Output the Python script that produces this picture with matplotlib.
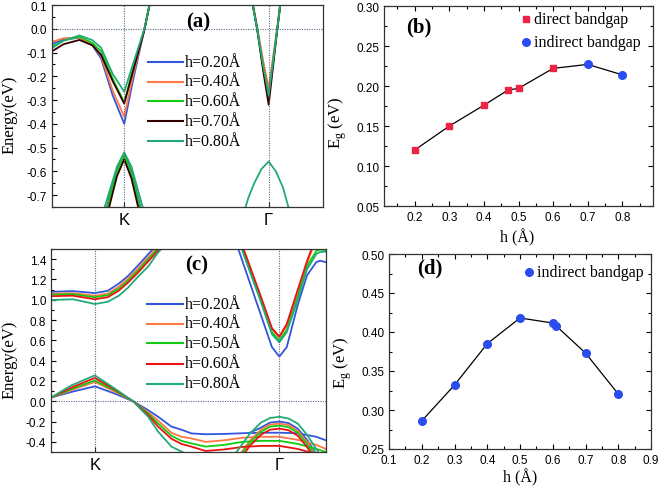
import numpy as np
import matplotlib
matplotlib.use("Agg")
import matplotlib.pyplot as plt
from matplotlib.ticker import MultipleLocator

# ---------------- data ----------------
# panel (a): k-path coordinate, K = 0, Gamma = 1
a_labels = ["h=0.20Å", "h=0.40Å", "h=0.60Å", "h=0.70Å", "h=0.80Å"]
a_colors = ["#3355dd", "#ff7744", "#11cc11", "#330000", "#22aa77"]
a_k_cK = [-0.5, -0.42, -0.31, -0.22, -0.16, -0.08, 0.0, 0.06, 0.14, 0.175, 0.25]
a_cK = [
    [-0.065, -0.045, -0.038, -0.07, -0.125, -0.28, -0.40, -0.22, 0.00, 0.10, 0.30],
    [-0.055, -0.04, -0.037, -0.065, -0.115, -0.26, -0.37, -0.20, 0.00, 0.10, 0.30],
    [-0.075, -0.05, -0.033, -0.06, -0.095, -0.21, -0.31, -0.17, 0.00, 0.10, 0.30],
    [-0.095, -0.065, -0.047, -0.07, -0.11, -0.22, -0.315, -0.18, -0.005, 0.10, 0.30],
    [-0.082, -0.05, -0.028, -0.048, -0.08, -0.19, -0.265, -0.15, 0.00, 0.10, 0.30],
]
a_k_vK = [-0.16, -0.1, -0.05, 0.0, 0.05, 0.1, 0.16]
a_vK = [
    [-0.85, -0.70, -0.59, -0.525, -0.60, -0.72, -0.87],
    [-0.87, -0.72, -0.61, -0.54, -0.62, -0.74, -0.89],
    [-0.86, -0.71, -0.60, -0.53, -0.61, -0.73, -0.88],
    [-0.90, -0.74, -0.62, -0.55, -0.63, -0.76, -0.92],
    [-0.80, -0.68, -0.58, -0.52, -0.58, -0.69, -0.82],
]
a_k_cG = [0.85, 0.89, 0.92, 0.96, 1.0, 1.03, 1.06, 1.08, 1.12]
a_cG = [
    [0.25, 0.10, 0.0, -0.14, -0.27, -0.135, 0.0, 0.10, 0.30],
    [0.25, 0.11, 0.01, -0.13, -0.25, -0.12, 0.01, 0.11, 0.30],
    [0.25, 0.10, 0.0, -0.155, -0.29, -0.145, 0.0, 0.10, 0.30],
    [0.25, 0.10, 0.0, -0.17, -0.32, -0.16, 0.0, 0.10, 0.30],
    [0.25, 0.10, 0.0, -0.15, -0.28, -0.14, 0.0, 0.10, 0.30],
]
a_k_vG = [0.82, 0.86, 0.9, 0.95, 1.0, 1.05, 1.1, 1.15]
a_vG_h080 = [-0.79, -0.71, -0.65, -0.59, -0.559, -0.60, -0.67, -0.78]

# panel (b)
b_h_direct = [0.2, 0.3, 0.4, 0.47, 0.5, 0.6]
b_eg_direct = [0.120, 0.150, 0.176, 0.195, 0.197, 0.222]
b_h_indirect = [0.7, 0.8]
b_eg_indirect = [0.227, 0.214]

# panel (c)
c_labels = ["h=0.20Å", "h=0.40Å", "h=0.50Å", "h=0.60Å", "h=0.80Å"]
c_colors = ["#3355dd", "#ff7744", "#11cc11", "#ee1111", "#22aa77"]
c_k_cK = [-0.24, -0.12, 0.0, 0.07, 0.13, 0.18, 0.23, 0.29, 0.34, 0.4]
c_cK = [
    [1.078, 1.085, 1.066, 1.088, 1.16, 1.235, 1.33, 1.45, 1.55, 1.66],
    [1.06, 1.065, 1.04, 1.06, 1.13, 1.21, 1.30, 1.42, 1.52, 1.64],
    [1.05, 1.055, 1.025, 1.045, 1.11, 1.19, 1.28, 1.40, 1.50, 1.62],
    [1.035, 1.04, 1.005, 1.025, 1.09, 1.17, 1.26, 1.38, 1.48, 1.60],
    [0.997, 1.005, 0.958, 0.98, 1.04, 1.12, 1.22, 1.33, 1.46, 1.58],
]
c_k_cG = [0.75, 0.8, 0.85, 0.9, 0.96, 1.0, 1.04, 1.1, 1.15, 1.2, 1.22, 1.253]
c_cG = [
    [1.65, 1.38, 1.115, 0.85, 0.533, 0.44, 0.533, 0.95, 1.24, 1.37, 1.385, 1.37],
    [1.77, 1.525, 1.27, 1.02, 0.71, 0.63, 0.74, 1.07, 1.36, 1.60, 1.70, 1.80],
    [1.74, 1.49, 1.24, 0.99, 0.68, 0.60, 0.70, 1.03, 1.33, 1.48, 1.495, 1.49],
    [1.78, 1.53, 1.28, 1.03, 0.72, 0.637, 0.76, 1.10, 1.38, 1.62, 1.70, 1.80],
    [1.73, 1.48, 1.23, 0.98, 0.66, 0.58, 0.68, 1.00, 1.30, 1.45, 1.47, 1.475],
]
c_k_v1 = [-0.24, -0.127, 0.0, 0.108, 0.207, 0.289, 0.343, 0.415, 0.469, 0.523,
          0.6, 0.7, 0.8, 0.9, 1.0, 1.1, 1.2, 1.253]
c_v1 = [
    [0.035, 0.092, 0.147, 0.075, 0.0, -0.088, -0.153, -0.25, -0.28, -0.317,
     -0.325, -0.322, -0.315, -0.31, -0.31, -0.315, -0.35, -0.385],
    [0.035, 0.11, 0.19, 0.095, 0.0, -0.11, -0.19, -0.31, -0.35, -0.366,
     -0.40, -0.385, -0.36, -0.35, -0.35, -0.38, -0.43, -0.47],
    [0.035, 0.12, 0.205, 0.105, 0.0, -0.12, -0.22, -0.34, -0.39, -0.415,
     -0.447, -0.43, -0.40, -0.39, -0.39, -0.42, -0.47, -0.50],
    [0.035, 0.135, 0.23, 0.115, 0.0, -0.135, -0.25, -0.37, -0.42, -0.447,
     -0.49, -0.475, -0.45, -0.44, -0.44, -0.47, -0.52, -0.55],
    [0.035, 0.157, 0.255, 0.125, 0.0, -0.153, -0.30, -0.447, -0.496, -0.54,
     -0.58, -0.57, -0.55, -0.54, -0.54, -0.57, -0.60, -0.62],
]
c_k_v2 = [0.72, 0.78, 0.84, 0.9, 0.95, 1.0, 1.05, 1.1, 1.15, 1.2, 1.253]
c_v2 = [
    [np.nan, np.nan, -0.31, -0.26, -0.21, -0.20, -0.215, -0.27, -0.38, -0.52, -0.67],
    [-0.69, -0.54, -0.39, -0.28, -0.23, -0.22, -0.235, -0.29, -0.40, -0.54, -0.69],
    [-0.71, -0.56, -0.41, -0.30, -0.25, -0.24, -0.255, -0.31, -0.42, -0.56, -0.71],
    [-0.74, -0.59, -0.44, -0.33, -0.28, -0.27, -0.285, -0.34, -0.45, -0.59, -0.74],
    [-0.62, -0.47, -0.32, -0.21, -0.165, -0.153, -0.17, -0.22, -0.33, -0.47, -0.62],
]

# panel (d)
d_h = [0.2, 0.3, 0.4, 0.5, 0.6, 0.61, 0.7, 0.8]
d_eg = [0.286, 0.332, 0.385, 0.418, 0.4115, 0.408, 0.373, 0.3205]

# ---------------- style ----------------
W, H = 661, 489
SANS = "Liberation Sans"
SERIF = "Liberation Serif"
plt.rcParams["font.family"] = [SANS, "DejaVu Sans"]
plt.rcParams["mathtext.fontset"] = "custom"
plt.rcParams["mathtext.rm"] = SERIF
TICK_FS = 8.5
LABEL_FS = 12
LEG_FS = 11.5
REF = dict(color="#5a6a8a", lw=0.8, ls=(0, (1, 1.2)))
LW = 1.3

fig = plt.figure(figsize=(W / 100, H / 100), dpi=100)


def make_ax(l, r, t, b):
    return fig.add_axes([l / W, 1 - b / H, (r - l) / W, (b - t) / H])


def style(ax, right=True, top=True):
    ax.tick_params(which="both", direction="in", labelsize=TICK_FS,
                   right=right, top=top, width=0.8)
    ax.tick_params(which="major", length=3.5)
    ax.tick_params(which="minor", length=2)
    for s in ax.spines.values():
        s.set_linewidth(0.9)
        s.set_color("#333333")


def set_labels(ax, ylabel, ypos, xlabel=None, xpos=None):
    ax.set_ylabel(ylabel, family=SERIF, fontsize=LABEL_FS)
    ax.yaxis.set_label_coords(*ypos)
    ax.yaxis.label.set_va("center")
    ax.yaxis.label.set_ha("center")
    if xlabel is not None:
        ax.set_xlabel(xlabel, family=SERIF, fontsize=LABEL_FS - 0.5)
        ax.xaxis.set_label_coords(*xpos)
        ax.xaxis.label.set_va("center")


def legend_lines(ax, labels, colors, x0, x1, xt, ys):
    for lab, col, y in zip(labels, colors, ys):
        ax.plot([x0, x1], [y, y], color=col, lw=LW + 0.2, transform=ax.transAxes,
                clip_on=False)
        ax.text(xt, y, lab, transform=ax.transAxes, fontsize=LEG_FS,
                family=SERIF, va="center", ha="left")


# ---------------- (a) ----------------
axA = make_ax(52, 323, 6, 208)
for i in range(len(a_labels)):
    c = a_colors[i]
    axA.plot(a_k_cK, a_cK[i], color=c, lw=LW)
    axA.plot(a_k_vK, a_vK[i], color=c, lw=LW)
    axA.plot(a_k_cG, a_cG[i], color=c, lw=LW)
axA.plot(a_k_vG, a_vG_h080, color=a_colors[4], lw=LW)
axA.axhline(0, **REF)
axA.axvline(0, **REF)
axA.axvline(1, **REF)
axA.set_xlim(-0.5, 1.376)
axA.set_ylim(-0.75, 0.1)
axA.set_yticks([0.1, 0.0, -0.1, -0.2, -0.3, -0.4, -0.5, -0.6, -0.7])
axA.set_yticklabels(["0.1", "0.0", "-0.1", "-0.2", "-0.3", "-0.4", "-0.5", "-0.6", "-0.7"])
axA.yaxis.set_minor_locator(MultipleLocator(0.05))
axA.set_xticks([0, 1])
style(axA, right=False, top=False)
axA.set_xticklabels(["K", "Γ"], fontsize=12)
set_labels(axA, "Energy(eV)", (-0.157, 0.46))
legend_lines(axA, a_labels, a_colors, 0.354, 0.483, 0.49,
             [(208 - y) / 202 for y in (63, 82.5, 102, 121.5, 141.5)])

# ---------------- (b) ----------------
axB = make_ax(384, 653, 7, 207)
axB.plot(b_h_direct + b_h_indirect, b_eg_direct + b_eg_indirect, color="black",
         lw=0.9, zorder=1)
axB.plot(b_h_direct, b_eg_direct, "s", color="#ee2244", ms=5, zorder=3)
axB.plot(b_h_indirect, b_eg_indirect, "o", color="#2a4df0", ms=5.5, zorder=3)
axB.set_xlim(0.111, 0.889)
axB.set_ylim(0.05, 0.30)
axB.set_xticks([0.2, 0.3, 0.4, 0.5, 0.6, 0.7, 0.8])
axB.set_xticklabels(["0.2", "0.3", "0.4", "0.5", "0.6", "0.7", "0.8"])
axB.xaxis.set_minor_locator(MultipleLocator(0.05))
axB.set_yticks([0.05, 0.10, 0.15, 0.20, 0.25, 0.30])
axB.set_yticklabels(["0.05", "0.10", "0.15", "0.20", "0.25", "0.30"])
axB.yaxis.set_minor_locator(MultipleLocator(0.025))
style(axB)
set_labels(axB, r"E$_{\mathregular{g}}$ (eV)", (-0.171, 0.42), "h (Å)", (0.494, -0.155))
axB.plot([(526 - 384) / 269], [(207 - 20) / 200], "s", color="#ee2244", ms=5,
         transform=axB.transAxes, clip_on=False)
axB.text((534 - 384) / 269, (207 - 20) / 200, "direct bandgap", transform=axB.transAxes,
         fontsize=LEG_FS, family=SERIF, va="center")
axB.plot([(526 - 384) / 269], [(207 - 43) / 200], "o", color="#2a4df0", ms=5.5,
         transform=axB.transAxes, clip_on=False)
axB.text((534 - 384) / 269, (207 - 43) / 200, "indirect bandgap", transform=axB.transAxes,
         fontsize=LEG_FS, family=SERIF, va="center")

# ---------------- (c) ----------------
axC = make_ax(51, 326, 250, 453)
for i in range(len(c_labels)):
    c = c_colors[i]
    axC.plot(c_k_cK, c_cK[i], color=c, lw=LW)
    axC.plot(c_k_cG, c_cG[i], color=c, lw=LW)
    axC.plot(c_k_v1, c_v1[i], color=c, lw=LW)
    axC.plot(c_k_v2, c_v2[i], color=c, lw=LW)
axC.axhline(0, **REF)
axC.axvline(0, **REF)
axC.axvline(1, **REF)
axC.set_xlim(-0.238, 1.253)
axC.set_ylim(-0.5, 1.5)
axC.set_yticks([-0.4, -0.2, 0.0, 0.2, 0.4, 0.6, 0.8, 1.0, 1.2, 1.4])
axC.set_yticklabels(["-0.4", "-0.2", "0.0", "0.2", "0.4", "0.6", "0.8", "1.0", "1.2", "1.4"])
axC.yaxis.set_minor_locator(MultipleLocator(0.1))
axC.set_xticks([0, 1])
style(axC, right=False, top=False)
axC.set_xticklabels(["K", "Γ"], fontsize=12)
set_labels(axC, "Energy(eV)", (-0.152, 0.458))
legend_lines(axC, c_labels, c_colors, 0.349, 0.48, 0.487,
             [(453 - y) / 203 for y in (305, 324.5, 344, 364.5, 384.5)])

# ---------------- (d) ----------------
axD = make_ax(389, 651, 255, 450)
axD.plot(d_h, d_eg, color="black", lw=0.9, zorder=1)
axD.plot(d_h, d_eg, "o", color="#2a4df0", ms=5.5, zorder=3)
axD.set_xlim(0.1, 0.9)
axD.set_ylim(0.25, 0.50)
axD.set_xticks([0.1, 0.2, 0.3, 0.4, 0.5, 0.6, 0.7, 0.8, 0.9])
axD.set_xticklabels(["0.1", "0.2", "0.3", "0.4", "0.5", "0.6", "0.7", "0.8", "0.9"])
axD.xaxis.set_minor_locator(MultipleLocator(0.05))
axD.set_yticks([0.25, 0.30, 0.35, 0.40, 0.45, 0.50])
axD.set_yticklabels(["0.25", "0.30", "0.35", "0.40", "0.45", "0.50"])
axD.yaxis.set_minor_locator(MultipleLocator(0.025))
style(axD)
set_labels(axD, r"E$_{\mathregular{g}}$ (eV)", (-0.176, 0.45), "h (Å)", (0.5, -0.144))
axD.plot([(529 - 389) / 262], [(450 - 273) / 195], "o", color="#2a4df0", ms=5.5,
         transform=axD.transAxes, clip_on=False)
axD.text((537 - 389) / 262, (450 - 273) / 195, "indirect bandgap", transform=axD.transAxes,
         fontsize=LEG_FS, family=SERIF, va="center")

# ---------------- panel letters ----------------
for txt, x, y in [("(a)", 198, 22), ("(b)", 419, 27), ("(c)", 197, 265), ("(d)", 430, 268)]:
    fig.text(x / W, 1 - y / H, txt, family=SERIF, fontweight="bold", fontsize=15,
             ha="center", va="center")

fig.savefig("out.png", dpi=100)
